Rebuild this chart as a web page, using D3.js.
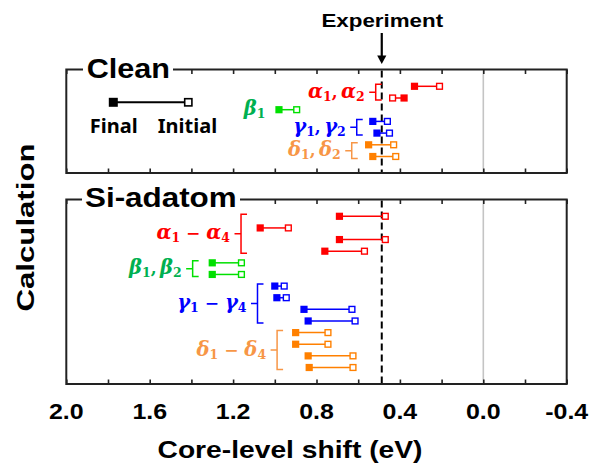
<!DOCTYPE html>
<html><head><meta charset="utf-8">
<script src="https://cdn.jsdelivr.net/npm/d3@7"></script>
<style>body{margin:0;background:#fff} svg{display:block}</style>
</head><body><svg id="c" width="591" height="463"></svg>
<script>
// ---------------- data ----------------
const experimentShift = 0.487;
const xTicks = [2.0,1.8,1.6,1.4,1.2,1.0,0.8,0.6,0.4,0.2,0.0,-0.2,-0.4];
const xTickLabels = [2.0,1.6,1.2,0.8,0.4,0.0,-0.4];

const cleanSeries  = ["α","α","β","γ","γ","δ","δ"];
const cleanFinal   = [0.33,0.38,0.98,0.53,0.51,0.55,0.53];
const cleanInitial = [0.21,0.435,0.895,0.46,0.45,0.43,0.42];

const siSeries  = ["α","α","α","α","β","β","γ","γ","γ","γ","δ","δ","δ","δ"];
const siFinal   = [0.69,1.07,0.69,0.76,1.30,1.30,1.00,0.99,0.86,0.84,0.90,0.90,0.84,0.835];
const siInitial = [0.47,0.935,0.47,0.57,1.16,1.16,0.955,0.945,0.63,0.615,0.745,0.745,0.625,0.625];

// group annotations: label tokens, rows covered, bracket position (eV)
const cleanGroups = [
  {s:"α", tokens:[["α","1"],["α","2"]], sep:",\u2009", first:0, last:1, at:0.516, bracket:true},
  {s:"β", tokens:[["β","1"]],           sep:"",   first:2, last:2, at:0.992, bracket:false},
  {s:"γ", tokens:[["γ","1"],["γ","2"]], sep:",\u2009", first:3, last:4, at:0.607, bracket:true},
  {s:"δ", tokens:[["δ","1"],["δ","2"]], sep:",\u2009", first:5, last:6, at:0.631, bracket:true}
];
const siGroups = [
  {s:"α", tokens:[["α","1"],["α","4"]], sep:" \u2212 ", first:0,  last:3,  at:1.162, bracket:true},
  {s:"β", tokens:[["β","1"],["β","2"]], sep:",\u2009",  first:4,  last:5,  at:1.394, bracket:true},
  {s:"γ", tokens:[["γ","1"],["γ","4"]], sep:" \u2212 ", first:6,  last:9,  at:1.083, bracket:true},
  {s:"δ", tokens:[["δ","1"],["δ","4"]], sep:" \u2212 ", first:10, last:13, at:0.989, bracket:true}
];

const markerColor  = {"α":"#ff0000","β":"#00e000","γ":"#0000ff","δ":"#ff8000"};
const labelColor   = {"α":"#ff0000","β":"#00b050","γ":"#0000ff","δ":"#f79646"};
const bracketColor = {"α":"#ff0000","β":"#00e000","γ":"#0000ff","δ":"#f79646"};

// ---------------- layout ----------------
const svg = d3.select("#c");
const x = d3.scaleLinear().domain([2.0,-0.4]).range([66.3,566.7]);
const sansB = "'Liberation Sans', Arial, sans-serif";
const serif = "'DejaVu Serif','Liberation Serif',serif";

const panels = [
  {name:"Clean", top:69.5, bottom:173, series:cleanSeries, fin:cleanFinal, ini:cleanInitial, groups:cleanGroups,
   titleX:86.7, titleBase:78, titleW:83.3, bgX0:83, bgX1:173},
  {name:"Si-adatom", top:199.5, bottom:384, series:siSeries, fin:siFinal, ini:siInitial, groups:siGroups,
   titleX:85, titleBase:206.5, titleW:151.7, bgX0:82, bgX1:240}
];

panels.forEach(p => {
  const n = p.series.length;
  const y = d3.scaleLinear().domain([0,n-1]).range([p.top+16.8, p.bottom-16.5]);
  const g = svg.append("g");

  // reference lines
  g.append("line").attr("x1",x(0)).attr("x2",x(0)).attr("y1",p.top).attr("y2",p.bottom)
    .attr("stroke","#c4c4c4").attr("stroke-width",1.6);
  g.append("line").attr("x1",x(experimentShift)).attr("x2",x(experimentShift))
    .attr("y1",p.top+1).attr("y2",p.bottom-1)
    .attr("stroke","#000").attr("stroke-width",2).attr("stroke-dasharray","7,4");

  // frame
  g.append("rect").attr("x",x(2.0)).attr("y",p.top).attr("width",x(-0.4)-x(2.0)).attr("height",p.bottom-p.top)
    .attr("fill","none").attr("stroke","#222").attr("stroke-width",2);

  // inward ticks top & bottom
  const axT = d3.axisTop(x).tickValues(xTicks).tickSize(-4.5).tickSizeOuter(0).tickFormat("");
  const axB = d3.axisBottom(x).tickValues(xTicks).tickSize(-4.5).tickSizeOuter(0).tickFormat("");
  [[axT,p.top],[axB,p.bottom]].forEach(([ax,yy]) => {
    const a = g.append("g").attr("transform",`translate(0,${yy})`).call(ax);
    a.select(".domain").remove();
    a.selectAll("line").attr("stroke","#222").attr("stroke-width",1.6);
  });

  // title with white background
  g.append("rect").attr("x",p.bgX0).attr("y",p.top-6).attr("width",p.bgX1-p.bgX0).attr("height",12).attr("fill","#fff");
  g.append("text").attr("x",p.titleX).attr("y",p.titleBase).text(p.name)
    .attr("font-family",sansB).attr("font-weight","bold").attr("font-size",28)
    .attr("textLength",p.titleW).attr("lengthAdjust","spacingAndGlyphs").attr("fill","#000");

  // connectors
  const idx = d3.range(n);
  g.selectAll(".conn").data(idx).join("line")
    .attr("x1",i=>x(p.fin[i])).attr("x2",i=>x(p.ini[i]))
    .attr("y1",i=>y(i)).attr("y2",i=>y(i))
    .attr("stroke",i=>markerColor[p.series[i]]).attr("stroke-width",1.5);
  // final (filled)
  g.selectAll(".fin").data(idx).join("rect")
    .attr("x",i=>x(p.fin[i])-3.6).attr("y",i=>y(i)-3.6).attr("width",7.2).attr("height",7.2)
    .attr("fill",i=>markerColor[p.series[i]]);
  // initial (open)
  g.selectAll(".ini").data(idx).join("rect")
    .attr("x",i=>x(p.ini[i])-2.9).attr("y",i=>y(i)-2.9).attr("width",5.8).attr("height",5.8)
    .attr("fill","#fff").attr("stroke",i=>markerColor[p.series[i]]).attr("stroke-width",1.4);

  // groups: brackets and labels
  p.groups.forEach(gr => {
    const bx = x(gr.at);
    const y0 = y(gr.first)-2, y1 = y(gr.last)+2, ym = (y(gr.first)+y(gr.last))/2;
    if (gr.bracket) {
      g.append("path")
        .attr("d",`M${bx+6},${y0}H${bx}V${y1}H${bx+6}M${bx},${ym}H${bx-6.5}`)
        .attr("fill","none").attr("stroke",bracketColor[gr.s]).attr("stroke-width",1.5);
    }
    const t = g.append("text").attr("x",bx-11).attr("y",ym+5.5)
      .attr("text-anchor","end").attr("fill",labelColor[gr.s])
      .attr("font-family",serif).attr("font-weight","bold");
    gr.tokens.forEach((tk,k) => {
      if (k>0) t.append("tspan").attr("font-size",17).attr("font-style","normal").attr("dy",-3).text(gr.sep);
      t.append("tspan").attr("font-size",19.5).attr("font-style","italic").text(tk[0]);
      t.append("tspan").attr("font-size",12.5).attr("font-style","normal").attr("dy",3).text(tk[1]);
    });
  });
});

// bottom tick labels
svg.selectAll(".tl").data(xTickLabels).join("text")
  .attr("transform",d=>`translate(${x(d)},418.5) scale(1.16,1)`)
  .attr("text-anchor","middle").attr("font-family",sansB).attr("font-weight","bold")
  .attr("font-size",21.5).attr("fill","#000").text(d=>d.toFixed(1));

// axis title
svg.append("text").attr("x",290).attr("y",458).attr("text-anchor","middle")
  .attr("font-family",sansB).attr("font-weight","bold").attr("font-size",24)
  .attr("textLength",265).attr("lengthAdjust","spacingAndGlyphs").text("Core-level shift (eV)");

// y title
svg.append("text").attr("transform","translate(34,227.5) rotate(-90)").attr("text-anchor","middle")
  .attr("font-family",sansB).attr("font-weight","bold").attr("font-size",24)
  .attr("textLength",168).attr("lengthAdjust","spacingAndGlyphs").text("Calculation");

// Experiment marker
const ex = x(experimentShift);
svg.append("text").attr("x",ex+0.5).attr("y",27).attr("text-anchor","middle")
  .attr("font-family",sansB).attr("font-weight","bold").attr("font-size",19)
  .attr("textLength",121.7).attr("lengthAdjust","spacingAndGlyphs").text("Experiment");
svg.append("line").attr("x1",ex).attr("x2",ex).attr("y1",33).attr("y2",57)
  .attr("stroke","#000").attr("stroke-width",2.2);
svg.append("path").attr("d",`M${ex-4.6},55.5L${ex+4.6},55.5L${ex},64Z`).attr("fill","#000");

// legend
const lg = svg.append("g");
lg.append("line").attr("x1",113.3).attr("x2",188.3).attr("y1",102.3).attr("y2",102.3)
  .attr("stroke","#000").attr("stroke-width",2);
lg.append("rect").attr("x",113.3-4.5).attr("y",102.3-4.5).attr("width",9).attr("height",9).attr("fill","#000");
lg.append("rect").attr("x",188.3-3.6).attr("y",102.3-3.6).attr("width",7.2).attr("height",7.2)
  .attr("fill","#fff").attr("stroke","#000").attr("stroke-width",1.6);
lg.append("text").attr("x",113.8).attr("y",133.3).attr("text-anchor","middle")
  .attr("font-family","'Noto Sans',sans-serif").attr("font-weight","bold").attr("font-size",20).text("Final");
lg.append("text").attr("x",187.5).attr("y",133.3).attr("text-anchor","middle")
  .attr("font-family","'Noto Sans',sans-serif").attr("font-weight","bold").attr("font-size",20).text("Initial");
</script></body></html>
